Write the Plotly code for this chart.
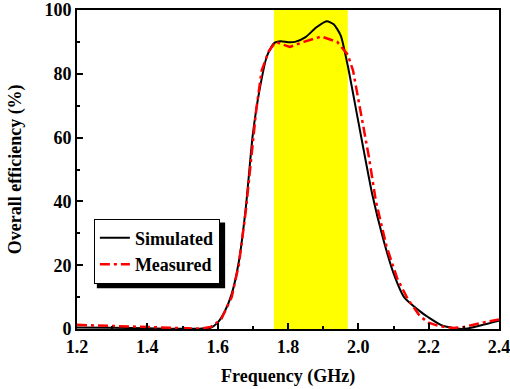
import plotly.graph_objects as go

# Simulated efficiency (%)
freq_sim = [1.20, 1.30, 1.40, 1.50, 1.55, 1.58, 1.60, 1.62, 1.64, 1.66, 1.68, 1.70,
            1.72, 1.74, 1.76, 1.78, 1.80, 1.82, 1.85, 1.88, 1.91, 1.93, 1.95, 1.97,
            2.00, 2.04, 2.07, 2.10, 2.13, 2.17, 2.20, 2.24, 2.30, 2.35, 2.40]
eff_sim = [0.5, 0.4, 0.2, 0.05, 0.1, 0.4, 2.0, 5.5, 11, 21, 38, 61,
           75.5, 85.5, 89.6, 90.2, 89.9, 90.0, 91.5, 94.5, 96.5, 95.5, 92.0, 82.5,
           65, 42, 28.5, 17.5, 10, 6, 3.6, 1.0, 0.0, 1.2, 2.6]

# Measured efficiency (%)
freq_meas = [1.20, 1.25, 1.30, 1.35, 1.40, 1.45, 1.50, 1.55, 1.58, 1.61, 1.64, 1.66,
             1.68, 1.70, 1.71, 1.725, 1.745, 1.765, 1.805, 1.845, 1.895, 1.94, 1.97, 1.985,
             2.01, 2.03, 2.05, 2.08, 2.11, 2.14, 2.175, 2.20, 2.23, 2.27, 2.30, 2.345, 2.40]
eff_meas = [1.3, 1.1, 1.0, 0.9, 0.7, 0.4, 0.2, 0.1, 0.6, 3.0, 10, 20,
            37, 58, 69, 81, 87, 90, 88.4, 90, 91.7, 90, 86, 81,
            66, 54, 40, 26, 16, 9.5, 4, 2, 0.9, 0.3, 0.6, 1.8, 3.0]

band = [1.76, 1.97]

x_ticks = [1.2, 1.4, 1.6, 1.8, 2.0, 2.2, 2.4]
x_tick_labels = ["1.2", "1.4", "1.6", "1.8", "2.0", "2.2", "2.4"]
y_ticks = [0, 20, 40, 60, 80, 100]

FONT = "Liberation Serif"
TXT = dict(family=FONT, size=18, color="black", weight="bold")

fig = go.Figure()
fig.add_trace(go.Scatter(x=freq_sim, y=eff_sim, mode="lines", name="Simulated",
                         line=dict(color="black", width=2, shape="spline", smoothing=0.6)))
fig.add_trace(go.Scatter(x=freq_meas, y=eff_meas, mode="lines", name="Measured",
                         line=dict(color="#ff0000", width=2.5, dash="10px,4px,3px,4px")))

fig.add_shape(type="rect", xref="x", yref="paper", x0=band[0], x1=band[1], y0=0, y1=1,
              fillcolor="#ffff00", line=dict(width=0), layer="below")

# legend shadow
fig.add_shape(type="rect", xref="paper", yref="paper",
              x0=0.047, x1=0.351, y0=0.128, y1=0.334,
              fillcolor="black", line=dict(width=0), layer="above")

axis_common = dict(showline=True, linecolor="black", linewidth=2, mirror=True,
                   ticks="inside", ticklen=6, tickwidth=1.5, tickcolor="black",
                   showgrid=False, zeroline=False, automargin=False,
                   ticklabeloverflow="allow", tickfont=TXT)

fig.update_xaxes(range=[1.2, 2.4], tickvals=x_ticks, ticktext=x_tick_labels,
                 minor=dict(ticks="inside", dtick=0.1, ticklen=3, tickwidth=1.5, tickcolor="black"),
                 **axis_common)
fig.update_yaxes(range=[0, 100], tickvals=y_ticks,
                 minor=dict(ticks="inside", dtick=10, ticklen=3, tickwidth=1.5, tickcolor="black"),
                 **axis_common)

fig.add_annotation(text="Frequency (GHz)", xref="paper", yref="paper",
                   x=0.5, y=-0.15, xanchor="center", yanchor="middle",
                   showarrow=False, font=TXT)
fig.add_annotation(text="Overall efficiency (%)", xref="paper", yref="paper",
                   x=-0.145, y=0.5, xanchor="center", yanchor="middle", textangle=-90,
                   showarrow=False, font=TXT)

fig.update_layout(
    width=510, height=389,
    margin=dict(l=77, r=11, t=10, b=60),
    paper_bgcolor="white", plot_bgcolor="white",
    showlegend=True,
    legend=dict(x=0.04, y=0.346, xanchor="left", yanchor="top",
                bgcolor="white", bordercolor="black", borderwidth=1,
                font=TXT, tracegroupgap=0, itemwidth=30),
)

fig.write_html("out.html", config={"displayModeBar": False},
               post_script="document.body.style.margin='0px';document.body.style.overflow='hidden';")
